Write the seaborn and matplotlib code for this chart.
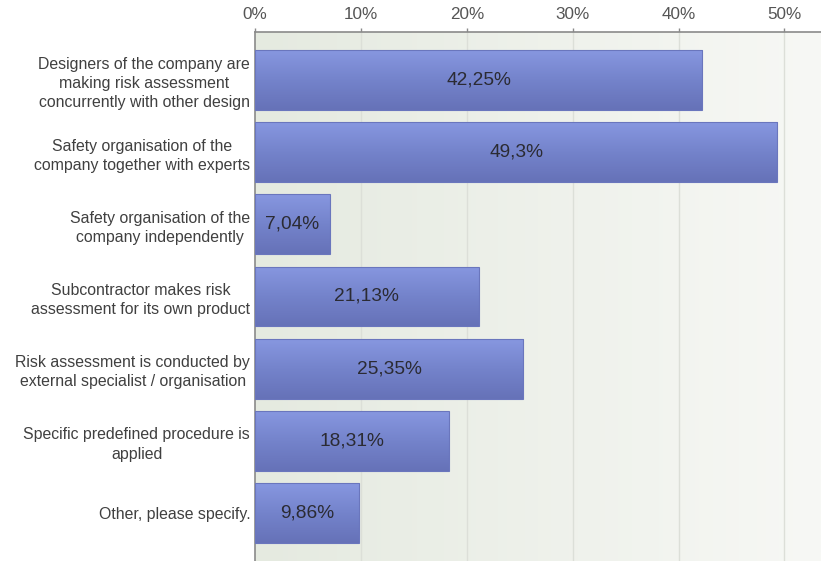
import numpy as np
import pandas as pd
import matplotlib
matplotlib.use("Agg")
import matplotlib.pyplot as plt
from matplotlib.colors import LinearSegmentedColormap
from matplotlib.ticker import FuncFormatter
import seaborn as sns

categories = [
    "Designers of the company are\nmaking risk assessment\nconcurrently with other design",
    "Safety organisation of the\ncompany together with experts",
    "Safety organisation of the\ncompany independently",
    "Subcontractor makes risk\nassessment for its own product",
    "Risk assessment is conducted by\nexternal specialist / organisation",
    "Specific predefined procedure is\napplied",
    "Other, please specify.",
]
shares = [42.25, 49.3, 7.04, 21.13, 25.35, 18.31, 9.86]
share_labels = ["42,25%", "49,3%", "7,04%", "21,13%", "25,35%", "18,31%", "9,86%"]
x_ticks = [0, 10, 20, 30, 40, 50]

df = pd.DataFrame({"category": categories, "share": shares})

sns.set_theme(style="white")
plt.rcParams["font.family"] = ["Liberation Sans", "DejaVu Sans"]

fig = plt.figure(figsize=(8.21, 5.61), dpi=100)
ax = fig.add_axes([0.3106, 0.0, 0.6894, 0.943])

sns.barplot(data=df, x="share", y="category", orient="h", width=0.83,
            color="#7a88d0", edgecolor="#6a76bd", linewidth=0.8, ax=ax, zorder=3)

XMAX = 53.45
ax.set_xlim(0, XMAX)
ax.set_ylim(6.665, -0.665)

# plot-area background: soft horizontal gradient
bg_cmap = LinearSegmentedColormap.from_list("bg", ["#e5eae0", "#f7f8f5"])
ax.imshow(np.linspace(0, 1, 256)[None, :], cmap=bg_cmap, aspect="auto",
          extent=[0, XMAX, 6.665, -0.665], zorder=0)

# bar fill: vertical gradient, lighter at the top
bar_cmap = LinearSegmentedColormap.from_list("bar", ["#8797e0", "#7483cb", "#6672b8"])
for patch in ax.patches:
    x0, y0 = patch.get_x(), patch.get_y()
    w, h = patch.get_width(), patch.get_height()
    patch.set_facecolor("none")
    img = ax.imshow(np.linspace(0, 1, 64)[:, None], cmap=bar_cmap, aspect="auto",
                    extent=[x0, x0 + w, y0 + h, y0], zorder=2)
    img.set_clip_path(patch)

ax.set_xlim(0, XMAX)
ax.set_ylim(6.665, -0.665)

for i, (v, lab) in enumerate(zip(shares, share_labels)):
    ax.text(v / 2, i, lab, ha="center", va="center", fontsize=13.8,
            color="#2b2b33", zorder=5)

# vertical gridlines
for t in x_ticks[1:]:
    ax.axvline(t, color="#dcdfd8", linewidth=1.0, zorder=1)

ax.xaxis.tick_top()
ax.set_xticks(x_ticks)
ax.xaxis.set_major_formatter(FuncFormatter(lambda v, p: f"{int(v)}%"))
ax.tick_params(axis="x", top=True, direction="out", length=3, width=1,
               color="#8a8a8a", labelsize=12.3, labelcolor="#555555", pad=4)
ax.tick_params(axis="y", left=False, labelsize=11.4, labelcolor="#404040", pad=-2.5)
for lbl in ax.get_yticklabels():
    lbl.set_multialignment("center")
    lbl.set_linespacing(1.35)

ax.set_xlabel("")
ax.set_ylabel("")
for side in ["right", "bottom"]:
    ax.spines[side].set_visible(False)
for side in ["top", "left"]:
    ax.spines[side].set_visible(True)
    ax.spines[side].set_color("#8a8a8a")
    ax.spines[side].set_linewidth(1.2)

fig.savefig("out.png", dpi=100, facecolor="white")
